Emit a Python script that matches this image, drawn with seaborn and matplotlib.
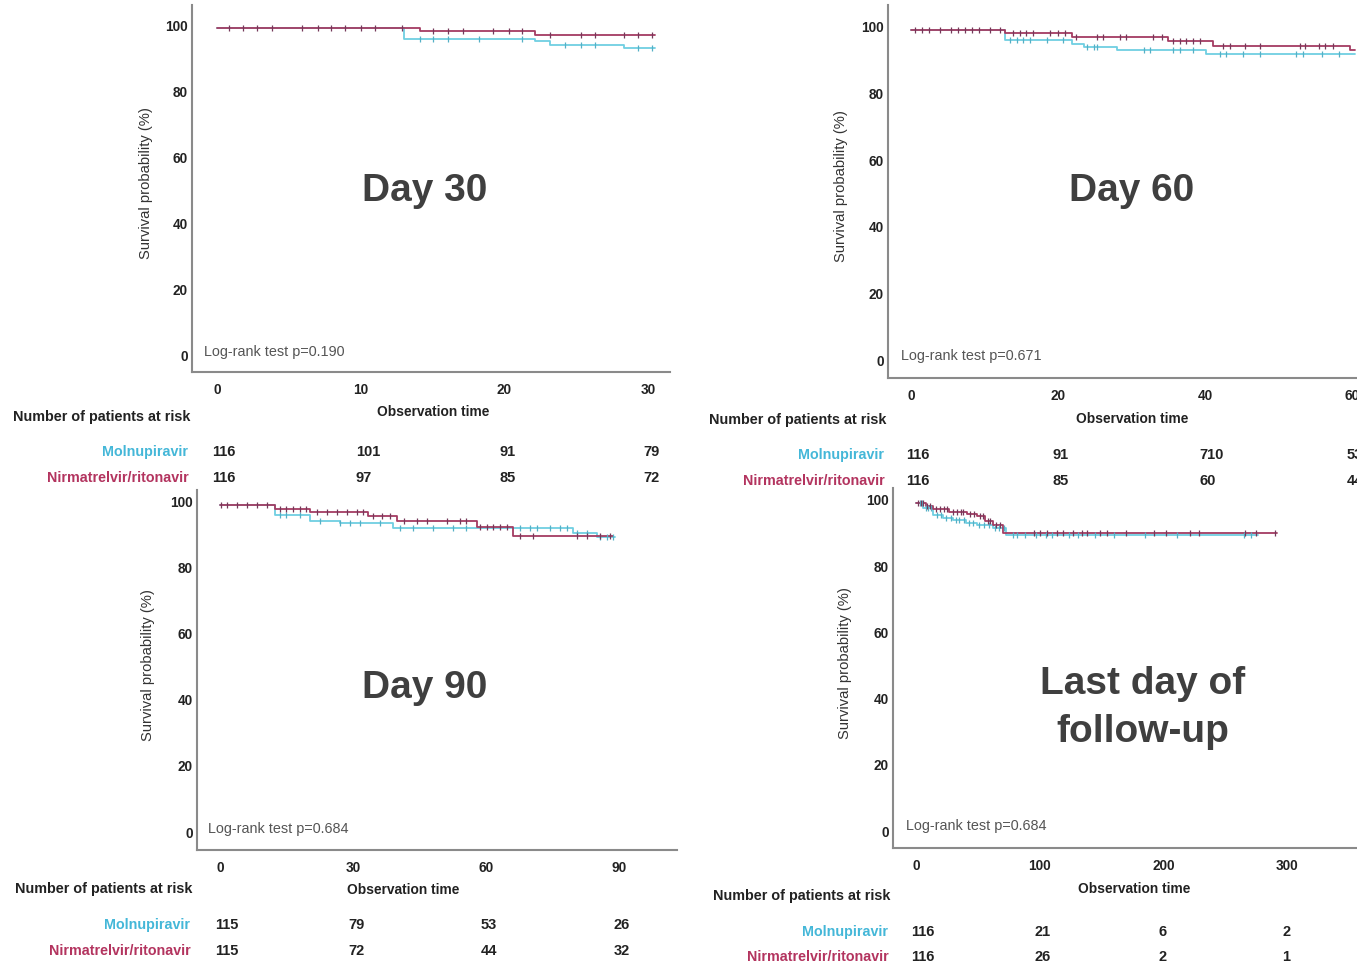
import numpy as np
import pandas as pd
import matplotlib
matplotlib.use("Agg")
import matplotlib.pyplot as plt
import matplotlib.transforms as mtransforms
import seaborn as sns

# ---------------- data ----------------
groups = ["Molnupiravir", "Nirmatrelvir/ritonavir"]

# Day 30
mol30_t = [0, 13.0, 22.1, 23.2, 28.3, 30.5]
mol30_s = [99.1, 95.8, 95.3, 94.1, 93.0, 93.0]
nir30_t = [0, 14.1, 22.1, 30.5]
nir30_s = [99.1, 98.1, 97.0, 97.0]
mol30_c = [14.1, 15.0, 16.1, 18.2, 21.2, 24.2, 25.3, 26.3, 29.3, 30.3]
nir30_c = [0.8, 1.8, 2.8, 3.8, 5.9, 7.0, 7.9, 8.9, 10.0, 11.0, 12.9, 15.0, 16.1,
           17.1, 19.2, 20.3, 21.2, 23.2, 25.3, 26.3, 28.3, 29.3, 30.3]
xt30 = [0, 10, 20, 30]
risk30_mol = ["116", "101", "91", "79"]
risk30_nir = ["116", "97", "85", "72"]

# Day 60
mol60_t = [0, 12.8, 21.9, 23.5, 28.0, 40.2, 60.5]
mol60_s = [99.2, 96.1, 94.9, 94.1, 93.1, 91.9, 91.9]
nir60_t = [0, 12.8, 21.9, 35.0, 41.1, 59.7, 60.5]
nir60_s = [99.2, 98.1, 97.1, 95.7, 94.4, 93.0, 93.0]
mol60_c = [13.5, 14.4, 15.3, 16.2, 18.5, 20.7, 24.0, 24.9, 25.3, 31.7, 32.6, 35.7,
           36.6, 38.4, 42.0, 42.9, 45.2, 47.5, 52.4, 53.3, 56.0, 58.3]
nir60_c = [0.5, 1.5, 2.4, 3.9, 5.5, 6.4, 7.3, 8.3, 9.2, 10.7, 12.1, 13.9, 14.8, 15.7,
           16.6, 18.9, 20.0, 21.0, 22.5, 25.3, 26.2, 28.4, 29.3, 32.9, 34.1, 35.7,
           36.6, 37.5, 38.4, 39.3, 42.5, 43.4, 45.4, 47.5, 52.9, 53.6, 55.6, 56.3, 57.5]
xt60 = [0, 20, 40, 60]
risk60_mol = ["116", "91", "710", "53"]
risk60_nir = ["116", "85", "60", "44"]

# Day 90
mol90_t = [0, 12.4, 20.3, 27.0, 39.1, 79.7, 85.0, 89.1]
mol90_s = [99.1, 96.1, 94.1, 93.5, 92.0, 90.7, 89.3, 89.3]
nir90_t = [0, 12.4, 20.3, 33.4, 39.9, 58.0, 66.2, 88.7]
nir90_s = [99.1, 97.9, 96.8, 95.6, 94.1, 92.5, 89.7, 89.7]
mol90_c = [13.5, 15.0, 18.0, 22.6, 27.0, 29.3, 31.6, 36.1, 40.6, 43.6, 48.1, 52.6,
           55.6, 67.7, 70.0, 71.5, 74.5, 76.7, 78.2, 80.5, 82.7, 85.8, 87.2, 88.7]
nir90_c = [0.2, 1.5, 3.8, 6.0, 8.3, 10.5, 13.5, 15.0, 16.5, 18.0, 19.5, 21.8, 24.1,
           26.3, 28.6, 30.8, 32.3, 34.6, 36.5, 38.3, 41.4, 44.4, 46.6, 51.1, 54.1,
           55.6, 58.6, 60.2, 61.6, 63.2, 64.7, 67.7, 70.7, 80.5, 82.7, 85.8, 88.0]
xt90 = [0, 30, 60, 90]
risk90_mol = ["115", "79", "53", "26"]
risk90_nir = ["115", "72", "44", "32"]

# Last day of follow-up
mollast_t = [0, 6, 14, 22, 30, 40, 49, 62, 73, 276]
mollast_s = [99.0, 97.5, 95.5, 94.5, 93.8, 93.0, 92.3, 91.5, 89.4, 89.4]
nirlast_t = [0, 8, 14, 27, 41, 49, 56, 62, 70, 292]
nirlast_s = [99.0, 98.2, 97.4, 96.4, 95.6, 95.0, 93.6, 92.4, 89.9, 89.9]
mollast_c = [3, 5, 8, 10, 12, 17, 20, 24, 28, 32, 35, 39, 43, 46, 51, 55, 59, 64, 67,
             71, 78, 82, 88, 97, 105, 110, 124, 131, 145, 160, 185, 211, 265, 271]
nirlast_c = [2, 4, 6, 9, 11, 16, 19, 23, 25, 30, 33, 36, 38, 44, 47, 52, 54, 58, 60,
             65, 68, 95, 100, 106, 114, 119, 127, 134, 138, 149, 154, 170, 192, 202,
             221, 229, 266, 275, 290]
xtlast = [0, 100, 200, 300]
risklast_mol = ["116", "21", "6", "2"]
risklast_nir = ["116", "26", "2", "1"]

pvals = ["0.190", "0.671", "0.684", "0.684"]
titles = ["Day 30", "Day 60", "Day 90", "Last day of\nfollow-up"]

# ---------------- style ----------------
sns.set_theme(style="white")
plt.rcParams['font.family'] = ['Liberation Sans', 'DejaVu Sans']

MOL_LINE = "#6fcfe2"
NIR_LINE = "#a43c62"
MOL_TXT = "#44b7d8"
NIR_TXT = "#b3345f"
MOL_CEN = "#55b0c6"
NIR_CEN = "#75395a"
DARK = "#222222"

W, H = 1357, 967
fig = plt.figure(figsize=(W / 100, H / 100), dpi=100)
fig.patch.set_facecolor("white")


def fx(px):
    return px / W


def fy(py):
    return 1 - py / H


def step_val(t, s, c):
    t = np.asarray(t)
    s = np.asarray(s)
    idx = np.searchsorted(t, np.asarray(c), side="right") - 1
    return s[np.clip(idx, 0, len(s) - 1)]


panels = [
    dict(box=(192, 670, 5, 372), xlim=(-1.74, 31.52), ylim=(-5.15, 106.1), xt=xt30,
         mol=(mol30_t, mol30_s, mol30_c), nir=(nir30_t, nir30_s, nir30_c),
         risk=(risk30_mol, risk30_nir), title_xy=(425, 191), lr_xy=(204, 352),
         obs_xy=(433, 412), lab_right=190, rows_y=(417, 452, 478), ylab_x=146),
    dict(box=(888, 1390, 5, 378), xlim=(-3.13, 65.2), ylim=(-5.4, 106.6), xt=xt60,
         mol=(mol60_t, mol60_s, mol60_c), nir=(nir60_t, nir60_s, nir60_c),
         risk=(risk60_mol, risk60_nir), title_xy=(1132, 191), lr_xy=(901, 356),
         obs_xy=(1132, 419), lab_right=886, rows_y=(420, 455, 481), ylab_x=841),
    dict(box=(197, 677, 490, 850), xlim=(-5.19, 103.1), ylim=(-5.45, 103.6), xt=xt90,
         mol=(mol90_t, mol90_s, mol90_c), nir=(nir90_t, nir90_s, nir90_c),
         risk=(risk90_mol, risk90_nir), title_xy=(425, 688), lr_xy=(208, 829),
         obs_xy=(403, 890), lab_right=192, rows_y=(889, 925, 951), ylab_x=148),
    dict(box=(893, 1390, 488, 848), xlim=(-18.6, 383.0), ylim=(-5.1, 103.6), xt=xtlast,
         mol=(mollast_t, mollast_s, mollast_c), nir=(nirlast_t, nirlast_s, nirlast_c),
         risk=(risklast_mol, risklast_nir), title_xy=(1143, 708), lr_xy=(906, 826),
         obs_xy=(1134, 889), lab_right=890, rows_y=(896, 932, 957), ylab_x=845),
]

for i, p in enumerate(panels):
    x0, x1, y0, y1 = p["box"]
    ax = fig.add_axes([fx(x0), fy(y1), (x1 - x0) / W, (y1 - y0) / H])
    ax.set_facecolor("none")

    for key, lc, cc, name in (("mol", MOL_LINE, MOL_CEN, groups[0]),
                              ("nir", NIR_LINE, NIR_CEN, groups[1])):
        t, s, c = p[key]
        df = pd.DataFrame({"time": t, "surv": s, "group": name})
        sns.lineplot(data=df, x="time", y="surv", drawstyle="steps-post",
                     color=lc, linewidth=1.3, estimator=None, ax=ax, legend=False)
        dc = pd.DataFrame({"time": c, "surv": step_val(t, s, c)})
        sns.scatterplot(data=dc, x="time", y="surv", marker="|", s=20,
                        color=cc, linewidth=0.9, ax=ax, legend=False, zorder=3)

    ax.set_xlim(*p["xlim"])
    ax.set_ylim(*p["ylim"])
    ax.set_xticks(p["xt"])
    ax.set_yticks([0, 20, 40, 60, 80, 100])
    ax.set_xlabel("")
    ax.set_ylabel("")
    ax.tick_params(axis="both", length=0, labelsize=9.8, labelcolor=DARK)
    ax.tick_params(axis="x", pad=8)
    ax.tick_params(axis="y", pad=3)
    for lab in ax.get_xticklabels() + ax.get_yticklabels():
        lab.set_fontweight("bold")
    for sp in ("top", "right"):
        ax.spines[sp].set_visible(False)
    for sp in ("left", "bottom"):
        ax.spines[sp].set_color("#8a8a8a")
        ax.spines[sp].set_linewidth(1.5)

    # big label
    tx, ty = p["title_xy"]
    fig.text(fx(tx), fy(ty), titles[i], ha="center", va="center", fontsize=28,
             fontweight="bold", color="#3f3f3f", linespacing=1.4)
    # log-rank
    lx, ly = p["lr_xy"]
    fig.text(fx(lx), fy(ly), "Log-rank test p=" + pvals[i], ha="left", va="center",
             fontsize=10.4, color="#555555")
    # axis titles
    ox, oy = p["obs_xy"]
    fig.text(fx(ox), fy(oy), "Observation time", ha="center", va="center",
             fontsize=9.9, fontweight="bold", color=DARK)
    fig.text(fx(p["ylab_x"]), fy((y0 + y1) / 2 - 5), "Survival probability (%)",
             rotation=90, ha="center", va="center", fontsize=10.6, color="#333333")

    # risk table
    ny, my, ry = p["rows_y"]
    lr = p["lab_right"]
    fig.text(fx(lr), fy(ny), "Number of patients at risk", ha="right", va="center",
             fontsize=10.4, fontweight="bold", color=DARK)
    fig.text(fx(lr - 2), fy(my), groups[0], ha="right", va="center",
             fontsize=10.3, fontweight="bold", color=MOL_TXT)
    fig.text(fx(lr - 1), fy(ry), groups[1], ha="right", va="center",
             fontsize=10.3, fontweight="bold", color=NIR_TXT)
    blend = mtransforms.blended_transform_factory(ax.transData, fig.transFigure)
    trans = mtransforms.offset_copy(blend, fig=fig, x=-5, y=0, units="dots")
    for xv, a, b in zip(p["xt"], p["risk"][0], p["risk"][1]):
        ax.text(xv, fy(my), a, transform=trans, ha="left", va="center",
                fontsize=10.5, fontweight="bold", color=DARK, clip_on=False)
        ax.text(xv, fy(ry), b, transform=trans, ha="left", va="center",
                fontsize=10.5, fontweight="bold", color=DARK, clip_on=False)

fig.savefig("out.png", dpi=100, facecolor="white")
